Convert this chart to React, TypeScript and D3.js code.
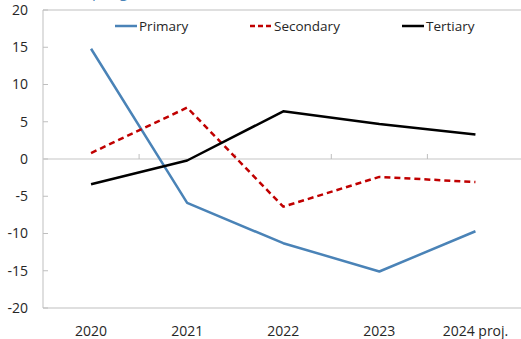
import React from "react";
import * as d3 from "d3";

const years = ["2020", "2021", "2022", "2023", "2024 proj."];
const primary = [14.8, -5.9, -11.3, -15.1, -9.7];
const secondary = [0.8, 6.9, -6.4, -2.4, -3.1];
const tertiary = [-3.4, -0.2, 6.4, 4.7, 3.3];
const yTicks = [-20, -15, -10, -5, 0, 5, 10, 15, 20];

const series = [
  { name: "Primary", values: primary, color: "#4A83B7", dash: "" },
  { name: "Secondary", values: secondary, color: "#C00000", dash: "6 4" },
  { name: "Tertiary", values: tertiary, color: "#000000", dash: "" },
];

const W = 521;
const H = 339;
const left = 43;
const right = 523.5;
const top = 10;
const bottom = 308;
const font = "'Open Sans', 'Noto Sans', sans-serif";

export default function App() {
  const x = d3.scaleBand<string>().domain(years).range([left, right]).padding(0);
  const y = d3.scaleLinear().domain([-20, 20]).range([bottom, top]);
  const cx = (i: number) => (x(years[i]) as number) + x.bandwidth() / 2;
  const line = d3
    .line<number>()
    .x((_, i) => cx(i))
    .y((d) => y(d));

  const legendItems = [
    { x1: 115, x2: 137, tx: 139 },
    { x1: 250, x2: 272, tx: 274 },
    { x1: 402, x2: 424, tx: 426 },
  ];

  return (
    <svg
      width={W}
      height={H}
      style={{ position: "absolute", left: 0, top: 0, background: "#fff" }}
      fontFamily={font}
    >
      <text x={8} y={-3} fontSize={15} fill="#4A83B7">
        Sectoral output growth
      </text>
      {/* frame */}
      <line x1={left} x2={W} y1={top} y2={top} stroke="#BFBFBF" strokeWidth={1} />
      <line x1={left} x2={W} y1={bottom} y2={bottom} stroke="#BFBFBF" strokeWidth={1} />
      <line x1={left} x2={left} y1={top} y2={bottom} stroke="#BFBFBF" strokeWidth={1} />
      {/* zero line */}
      <line x1={left} x2={W} y1={y(0)} y2={y(0)} stroke="#D9D9D9" strokeWidth={1.5} />
      {/* category boundary ticks on the zero line */}
      {years.slice(1).map((yr) => (
        <line
          key={yr}
          x1={x(yr) as number}
          x2={x(yr) as number}
          y1={y(0) - 5}
          y2={y(0)}
          stroke="#BFBFBF"
          strokeWidth={1}
        />
      ))}
      {/* y ticks and labels */}
      {yTicks.map((t) => (
        <g key={t}>
          <line x1={left} x2={left + 5} y1={y(t)} y2={y(t)} stroke="#BFBFBF" strokeWidth={1} />
          <text
            x={28}
            y={y(t)}
            dy="0.35em"
            textAnchor="end"
            fontSize={14}
            fill="#262626"
          >
            {t}
          </text>
        </g>
      ))}
      {/* x labels */}
      {years.map((yr, i) => (
        <text key={yr} x={cx(i)} y={336} textAnchor="middle" fontSize={14} fill="#262626">
          {yr}
        </text>
      ))}
      {/* series */}
      {series.map((s) => (
        <path
          key={s.name}
          d={line(s.values) || ""}
          fill="none"
          stroke={s.color}
          strokeWidth={2.5}
          strokeDasharray={s.dash}
          strokeLinejoin="round"
        />
      ))}
      {/* legend */}
      {series.map((s, i) => (
        <g key={s.name}>
          <line
            x1={legendItems[i].x1}
            x2={legendItems[i].x2}
            y1={26}
            y2={26}
            stroke={s.color}
            strokeWidth={2.5}
            strokeDasharray={s.dash ? "5 3" : ""}
          />
          <text x={legendItems[i].tx} y={26} dy="0.35em" fontSize={13.5} fill="#262626">
            {s.name}
          </text>
        </g>
      ))}
    </svg>
  );
}
